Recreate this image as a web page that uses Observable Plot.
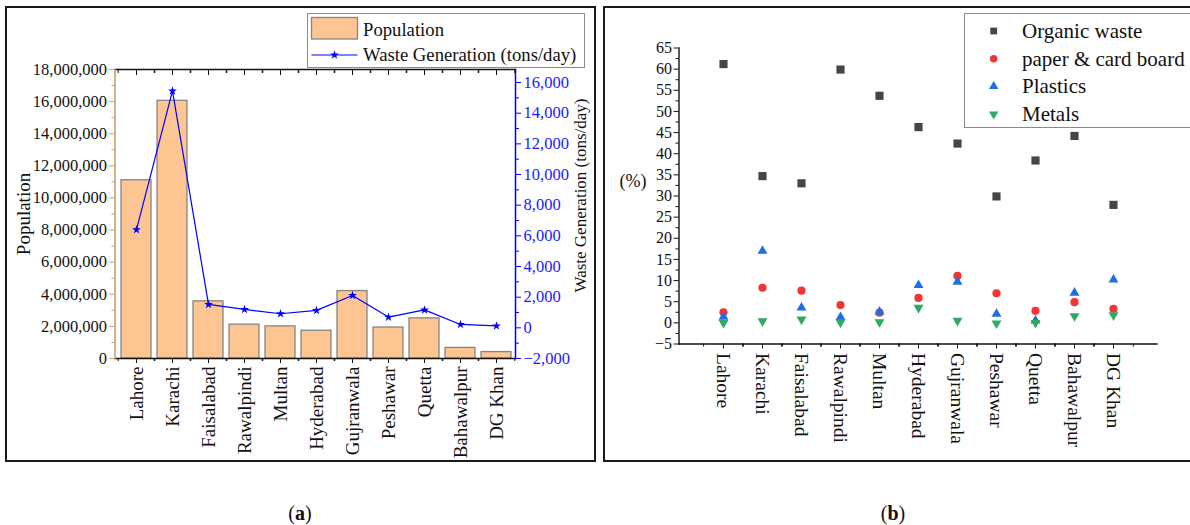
<!DOCTYPE html>
<html>
<head>
<meta charset="utf-8">
<script src="https://cdn.jsdelivr.net/npm/d3@7"></script>
<script src="https://cdn.jsdelivr.net/npm/@observablehq/plot@0.6"></script>
<style>
  body { margin: 0; background: #fff; }
  #page { position: relative; width: 1190px; height: 525px; overflow: hidden; font-family: 'Liberation Serif', serif; color: #111; }
  .panel { position: absolute; border: 2px solid #1a1a1a; box-sizing: border-box; }
  .legend { position: absolute; border: 1.5px solid #8a8a8a; box-sizing: border-box; background: #fff; }
  .lt { position: absolute; white-space: nowrap; line-height: 24px; height: 24px; }
  .cap { position: absolute; font-size: 20px; transform: translate(-50%, -50%); white-space: nowrap; }
  svg.plt { position: absolute; overflow: visible; }
</style>
</head>
<body>
<div id="page"></div>
<script>
// ---------- data ----------
const cities = ["Lahore", "Karachi", "Faisalabad", "Rawalpindi", "Multan", "Hyderabad", "Gujranwala", "Peshawar", "Quetta", "Bahawalpur", "DG Khan"];
const population = [11100000, 16050000, 3560000, 2110000, 2000000, 1730000, 4200000, 1930000, 2500000, 660000, 400000];
const wasteGeneration = [6400, 15450, 1530, 1200, 920, 1140, 2110, 700, 1170, 220, 130];

const organicWaste = [61.2, 34.7, 33.0, 59.9, 53.7, 46.3, 42.4, 29.9, 38.4, 44.2, 27.9];
const paperCardBoard = [2.5, 8.3, 7.6, 4.2, 2.4, 5.9, 11.1, 7.0, 2.85, 4.9, 3.3];
const plastics = [1.4, 17.0, 3.6, 1.35, 2.6, 8.9, 9.7, 2.1, 0.5, 7.1, 10.2];
const metals = [0.0, 0.4, 0.8, 0.1, 0.2, 3.6, 0.5, -0.1, 0.0, 1.6, 1.8];

const popTicks = d3.range(0, 18000001, 2000000);
const popMinorTicks = d3.range(1000000, 18000000, 2000000);
const wasteTicks = d3.range(-2000, 16001, 2000);
const wasteMinorTicks = d3.range(-1000, 16000, 2000);
const pctTicks = d3.range(-5, 66, 5);
const pctMinorTicks = d3.range(-2.5, 65, 5);

// ---------- page ----------
const page = document.getElementById("page");
function addDiv(cls, css, html) {
  const d = document.createElement("div");
  d.className = cls;
  Object.assign(d.style, css);
  if (html != null) d.innerHTML = html;
  page.appendChild(d);
  return d;
}
addDiv("panel", {left: "5px", top: "6px", width: "591px", height: "456px"});
addDiv("panel", {left: "603px", top: "6px", width: "700px", height: "456px"});

const serif = "'Liberation Serif', serif";
const brown = "#c9996b";

// set font size of tick-label texts, chosen by their content
function sizeTexts(svg, labels, px) {
  const set = new Set(labels);
  svg.querySelectorAll("text").forEach(t => {
    if (set.has(t.textContent.trim())) {
      t.style.fontSize = px + "px";
      t.setAttribute("font-size", px);
    }
  });
}

// ---------- panel (a) ----------
const WA = 600, HA = 470;
const mA = {top: 69, right: 85, bottom: 112, left: 114.5};
const popMax = 18000000;
const wasteMin = -2000, wasteSpan = 18850;
const toPop = w => (w - wasteMin) * popMax / wasteSpan;
const fromPop = p => p * wasteSpan / popMax + wasteMin;
const rowsA = cities.map((c, i) => ({city: c, pop: population[i], wasteP: toPop(wasteGeneration[i])}));
const padIn = 0.18, padOut = 0.07;
const stepA = (WA - mA.left - mA.right) / (cities.length - padIn + 2 * padOut);
const halfA = stepA / 2;
const fmt = d3.format(",");

const plotA = Plot.plot({
  width: WA, height: HA,
  marginTop: mA.top, marginRight: mA.right, marginBottom: mA.bottom, marginLeft: mA.left,
  style: {fontFamily: serif, fontSize: "16px", background: "transparent", color: "#111"},
  x: {type: "band", domain: cities, paddingInner: padIn, paddingOuter: padOut, align: 0.6},
  y: {domain: [0, popMax]},
  marks: [
    Plot.barY(rowsA, {x: "city", y: "pop", fill: "#fcc592", stroke: "#858585", strokeWidth: 1.3}),
    Plot.frame({anchor: "top", stroke: "#111", strokeWidth: 1.3}),
    Plot.frame({anchor: "bottom", stroke: "#111", strokeWidth: 1.3}),
    Plot.frame({anchor: "left", stroke: brown, strokeWidth: 1.5}),
    Plot.frame({anchor: "right", stroke: "#0000ff", strokeWidth: 1.5}),
    Plot.axisY(popTicks, {anchor: "left", tickSize: 5, tickPadding: 3, stroke: brown, fill: "#111", tickFormat: fmt, label: null}),
    Plot.axisY(popMinorTicks, {anchor: "left", tickSize: 3, stroke: brown, tickFormat: () => "", label: null}),
    Plot.axisY(wasteTicks.map(toPop), {anchor: "right", tickSize: 5, tickPadding: 3, stroke: "#0000ff", fill: "#1a1aff", tickFormat: d => fmt(Math.round(fromPop(d))), label: null}),
    Plot.axisY(wasteMinorTicks.map(toPop), {anchor: "right", tickSize: 3, stroke: "#0000ff", tickFormat: () => "", label: null}),
    Plot.axisX(cities, {anchor: "bottom", tickSize: 5, tickPadding: 3, tickRotate: -90, label: null}),
    Plot.axisX(cities, {anchor: "bottom", tickSize: 3, dx: -halfA, tickFormat: () => "", label: null}),
    Plot.axisX(cities, {anchor: "bottom", tickSize: 3, dx: halfA, tickFormat: () => "", label: null}),
    Plot.axisX(cities, {anchor: "top", tickSize: -5, tickFormat: () => "", label: null}),
    Plot.axisX(cities, {anchor: "top", tickSize: -3, dx: -halfA, tickFormat: () => "", label: null}),
    Plot.axisX(cities, {anchor: "top", tickSize: -3, dx: halfA, tickFormat: () => "", label: null}),
    Plot.line(rowsA, {x: "city", y: "wasteP", stroke: "#0000ff", strokeWidth: 1.2}),
    Plot.dot(rowsA, {x: "city", y: "wasteP", symbol: "star", r: 2.8, fill: "#0000ff", stroke: "none"}),
    Plot.text(["Population"], {text: d => d, frameAnchor: "left", textAnchor: "middle", rotate: -90, dx: -91.5, fontSize: 19, fill: "#111"}),
    Plot.text(["Waste Generation (tons/day)"], {text: d => d, frameAnchor: "right", textAnchor: "middle", rotate: -90, dx: 65.5, dy: -18.5, fontSize: 17, fill: "#111"})
  ]
});
plotA.classList.add("plt");
plotA.style.left = "0px"; plotA.style.top = "0px";
plotA.style.fontFamily = serif;
sizeTexts(plotA, cities, 19);
sizeTexts(plotA, popTicks.map(fmt).concat(wasteTicks.map(fmt)), 16.5);
page.appendChild(plotA);

// ---------- panel (b) ----------
const WB = 600, HB = 470;
const mB = {top: 47.5, right: 43.5, bottom: 126.5, left: 78.5};
const stepB = (WB - mB.left - mB.right) / (cities.length - 1 + 2);
const halfB = stepB / 2;
const seriesB = [
  {name: "Organic waste", values: organicWaste, symbol: "square", r: 4.6, fill: "#454545", rotate: 0},
  {name: "paper & card board", values: paperCardBoard, symbol: "circle", r: 4.1, fill: "#ef3535", rotate: 0},
  {name: "Plastics", values: plastics, symbol: "triangle", r: 3.7, fill: "#1e6fe6", rotate: 0},
  {name: "Metals", values: metals, symbol: "triangle", r: 3.7, fill: "#2eaa62", rotate: 180}
];

const plotB = Plot.plot({
  width: WB, height: HB,
  marginTop: mB.top, marginRight: mB.right, marginBottom: mB.bottom, marginLeft: mB.left,
  style: {fontFamily: serif, fontSize: "16px", background: "transparent", color: "#111"},
  x: {type: "point", domain: cities, padding: 1},
  y: {domain: [-5, 65]},
  marks: [
    Plot.frame({anchor: "left", stroke: "#111", strokeWidth: 1.4}),
    Plot.frame({anchor: "bottom", stroke: "#111", strokeWidth: 1.4}),
    Plot.axisY(pctTicks, {anchor: "left", tickSize: 5, tickPadding: 2, label: null}),
    Plot.axisY(pctMinorTicks, {anchor: "left", tickSize: 3, tickFormat: () => "", label: null}),
    Plot.axisX(cities, {anchor: "bottom", tickSize: 5, tickPadding: 4, tickRotate: 90, label: null}),
    Plot.axisX(cities, {anchor: "bottom", tickSize: 3, dx: -halfB, tickFormat: () => "", label: null}),
    Plot.axisX(cities, {anchor: "bottom", tickSize: 3, dx: halfB, tickFormat: () => "", label: null}),
    Plot.text(["(%)"], {text: d => d, frameAnchor: "left", textAnchor: "middle", dx: -46, dy: -15, fontSize: 18, fill: "#111"}),
    ...seriesB.map(s => Plot.dot(cities.map((c, i) => ({city: c, v: s.values[i]})), {
      x: "city", y: "v", symbol: s.symbol, r: s.r, fill: s.fill, stroke: "none", rotate: s.rotate
    }))
  ]
});
plotB.classList.add("plt");
plotB.style.left = "600px"; plotB.style.top = "0px";
plotB.style.fontFamily = serif;
sizeTexts(plotB, cities, 19.5);
page.appendChild(plotB);

// ---------- legends ----------
const legA = addDiv("legend", {left: "307px", top: "13px", width: "278px", height: "55px"});
legA.innerHTML =
  `<svg style="position:absolute;left:0;top:0" width="278" height="55">
     <rect x="3.5" y="3.5" width="46" height="21.5" fill="#fcc592" stroke="#858585" stroke-width="1.3"/>
     <line x1="3.5" x2="49.5" y1="41" y2="41" stroke="#0000ff" stroke-width="1.2"/>
     <path transform="translate(26.5,41)" d="${d3.symbol(d3.symbolStar, 24)()}" fill="#0000ff"/>
   </svg>
   <div class="lt" style="left:55px;top:4px;font-size:18.7px">Population</div>
   <div class="lt" style="left:55px;top:29px;font-size:18.7px">Waste Generation (tons/day)</div>`;

const legB = addDiv("legend", {left: "964px", top: "13px", width: "300px", height: "115px"});
const rowY = [17, 44.7, 72.4, 100.2];
const legSyms = [
  `<rect x="-3.4" y="-3.4" width="6.8" height="6.8" fill="#454545"/>`,
  `<circle r="3.8" fill="#ef3535"/>`,
  `<path d="${d3.symbol(d3.symbolTriangle, 38)()}" fill="#1e6fe6"/>`,
  `<path transform="rotate(180)" d="${d3.symbol(d3.symbolTriangle, 38)()}" fill="#2eaa62"/>`
];
legB.innerHTML =
  `<svg style="position:absolute;left:0;top:0" width="300" height="115">` +
  legSyms.map((s, i) => `<g transform="translate(28.7,${rowY[i]})">${s}</g>`).join("") +
  `</svg>` +
  seriesB.map((s, i) => `<div class="lt" style="left:57px;top:${rowY[i] - 13}px;font-size:21px;line-height:26px;height:26px">${s.name.replace("&", "&amp;")}</div>`).join("");

// ---------- captions ----------
addDiv("cap", {left: "300px", top: "513px"}, "(<b>a</b>)");
addDiv("cap", {left: "893px", top: "513px"}, "(<b>b</b>)");
</script>
</body>
</html>
